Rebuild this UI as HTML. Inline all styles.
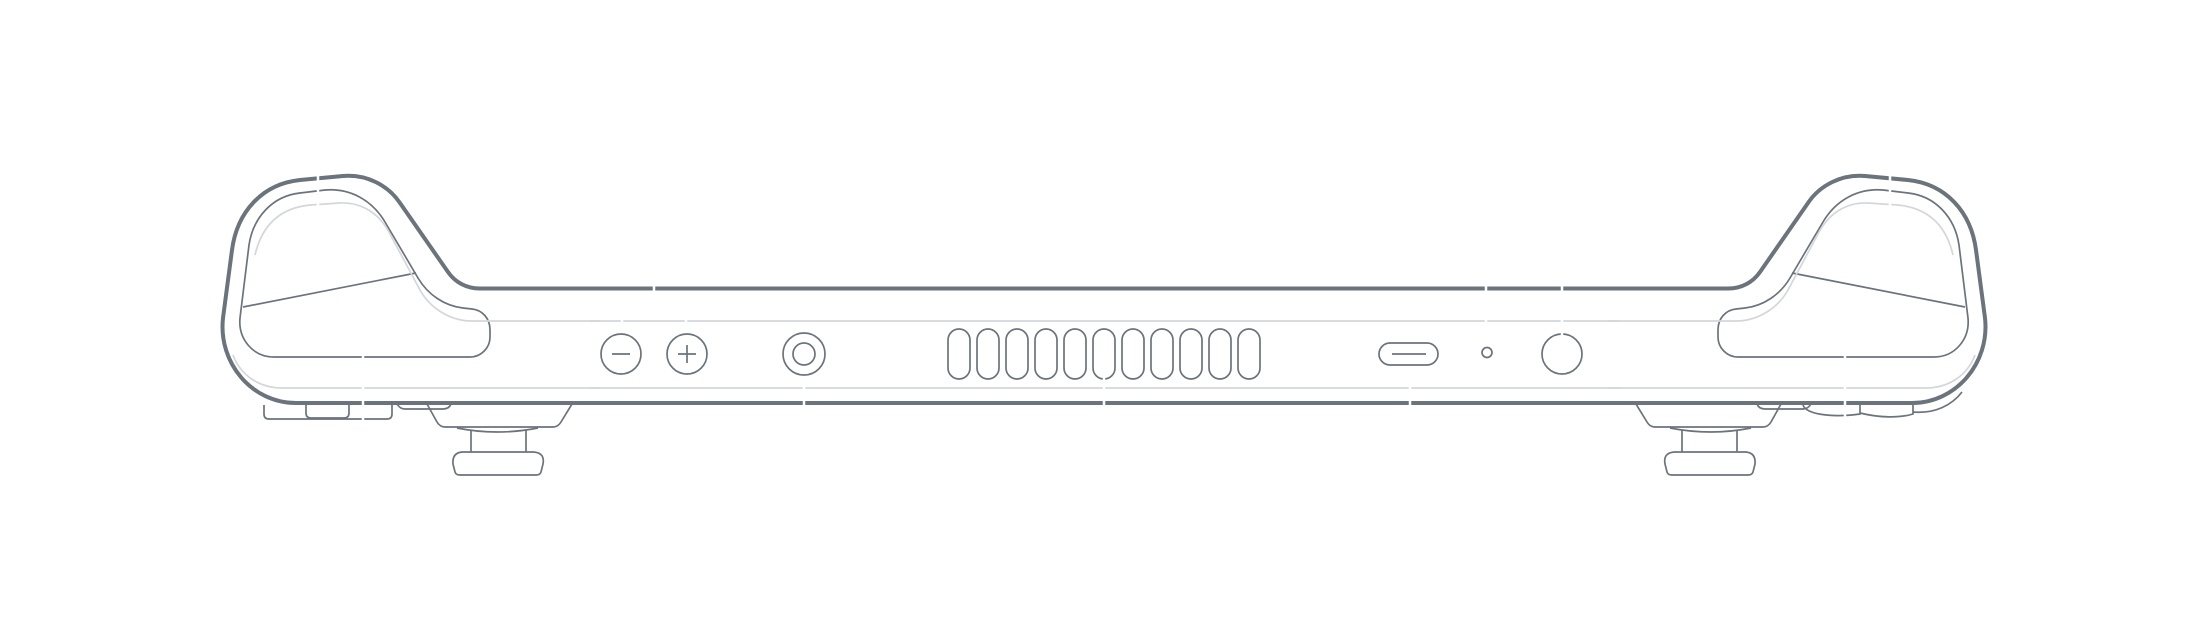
<!DOCTYPE html>
<html><head><meta charset="utf-8"><style>html,body{margin:0;padding:0;background:#fff}svg{display:block}</style></head>
<body>
<svg width="2208" height="624" viewBox="0 0 2208 624" xmlns="http://www.w3.org/2000/svg" fill="none" stroke-linecap="butt">
<defs>
<g id="half">
  <path d="M 480 288.5 C 466 288.5 455 282 448 272 L 400 203 C 388 185 366 174 343 176 L 300 180 C 262 184 237 212 232 250 L 223 318 C 218 363 252 403 296 403 L 600 403" stroke="#6b737d" stroke-width="4"/>
  <path d="M 490 330 C 490 318 482 310 472 309 L 463 308 C 445 306 428 295 418 278 L 385 222 C 372 200 350 188 325 190 L 300 193 C 272 196 253 218 249 245 L 240 318 C 238 339 253 357 274 357 L 470 357 C 481 357 490 348 490 337 Z" stroke="#6b737d" stroke-width="1.7"/>
  <path d="M 243 307 L 416 273" stroke="#6b737d" stroke-width="1.7"/>
  <path d="M 600 321 L 472 321 C 450 321 430 308 420 290 L 390 234 C 380 214 362 202 340 203 L 310 205 C 280 208 262 225 255 255" stroke="#d4d6d9" stroke-width="1.7"/>
  <path d="M 600 388 L 282 388 C 258 388 240 374 233 355" stroke="#d4d6d9" stroke-width="1.7"/>
  <path d="M 397 404 Q 400 409 405 409 L 443 409 Q 449 409 451 404" stroke="#6b737d" stroke-width="1.7"/>
  <path d="M 427 404 L 437 422 Q 440 427 445 427 L 553 427 Q 558 427 561 422 L 572 404" stroke="#6b737d" stroke-width="1.7"/>
  <path d="M 457 428 Q 497 436 538 428" stroke="#6b737d" stroke-width="1.7"/>
  <path d="M 471 430 L 471 452 M 526 430 L 526 452" stroke="#6b737d" stroke-width="1.7"/>
  <path d="M 462 452 L 534 452 Q 545 453 543 464 L 541 472 Q 540 475 536 475 L 460 475 Q 456 475 455 472 L 453 464 Q 452 453 462 452 Z" stroke="#6b737d" stroke-width="1.7"/>
</g>
</defs>
<use href="#half"/>
<use href="#half" transform="translate(2208,0) scale(-1,1)"/>
<line x1="478" y1="288.5" x2="1730" y2="288.5" stroke="#6b737d" stroke-width="4"/>
<line x1="590" y1="403" x2="1620" y2="403" stroke="#6b737d" stroke-width="4"/>
<line x1="590" y1="321" x2="1620" y2="321" stroke="#d4d6d9" stroke-width="1.7"/>
<line x1="590" y1="388" x2="1620" y2="388" stroke="#d4d6d9" stroke-width="1.7"/>
<g stroke="#6b737d" stroke-width="1.7">
  <path d="M 264 405 L 264 414 Q 264 419 269 419 L 387 419 Q 392 419 392 414 L 392 405"/>
  <path d="M 306 405 L 306 413 Q 306 418 311 418 L 344 418 Q 349 418 349 413 L 349 405"/>
  <path d="M 1803 405 C 1806 414 1830 418 1860 414 L 1860 405"/>
  <path d="M 1860 413 C 1880 418 1900 418 1913 414 L 1913 405"/>
  <path d="M 1913 412 C 1935 414 1952 405 1962 392"/>
  <circle cx="621" cy="354" r="20"/>
  <line x1="612" y1="354" x2="630" y2="354"/>
  <circle cx="687" cy="354" r="20"/>
  <line x1="678" y1="354" x2="696" y2="354"/>
  <line x1="687" y1="345" x2="687" y2="363"/>
  <circle cx="804" cy="354" r="21"/>
  <circle cx="804" cy="354" r="11"/>
  <rect x="948" y="329" width="22" height="50" rx="11"/>
  <rect x="977" y="329" width="22" height="50" rx="11"/>
  <rect x="1006" y="329" width="22" height="50" rx="11"/>
  <rect x="1035" y="329" width="22" height="50" rx="11"/>
  <rect x="1064" y="329" width="22" height="50" rx="11"/>
  <rect x="1093" y="329" width="22" height="50" rx="11"/>
  <rect x="1122" y="329" width="22" height="50" rx="11"/>
  <rect x="1151" y="329" width="22" height="50" rx="11"/>
  <rect x="1180" y="329" width="22" height="50" rx="11"/>
  <rect x="1209" y="329" width="22" height="50" rx="11"/>
  <rect x="1238" y="329" width="22" height="50" rx="11"/>
  <rect x="1379" y="343" width="59" height="22" rx="11"/>
  <line x1="1392" y1="354" x2="1426" y2="354"/>
  <circle cx="1487" cy="352.5" r="5"/>
  <circle cx="1562" cy="354" r="20"/>
</g>
<g stroke="#fff" stroke-width="2.5">
  <line x1="318" y1="168" x2="318" y2="212"/>
  <line x1="1890" y1="168" x2="1890" y2="212"/>
  <line x1="363" y1="350" x2="363" y2="425"/>
  <line x1="1845" y1="350" x2="1845" y2="425"/>
  <line x1="654" y1="282" x2="654" y2="295"/>
  <line x1="622" y1="317" x2="622" y2="325"/>
  <line x1="686" y1="317" x2="686" y2="325"/>
  <line x1="804" y1="384" x2="804" y2="408"/>
  <line x1="1104" y1="373" x2="1104" y2="408"/>
  <line x1="1410" y1="384" x2="1410" y2="408"/>
  <line x1="1486" y1="282" x2="1486" y2="325"/>
  <line x1="1562" y1="282" x2="1562" y2="337"/>
</g>
</svg>
</body></html>
